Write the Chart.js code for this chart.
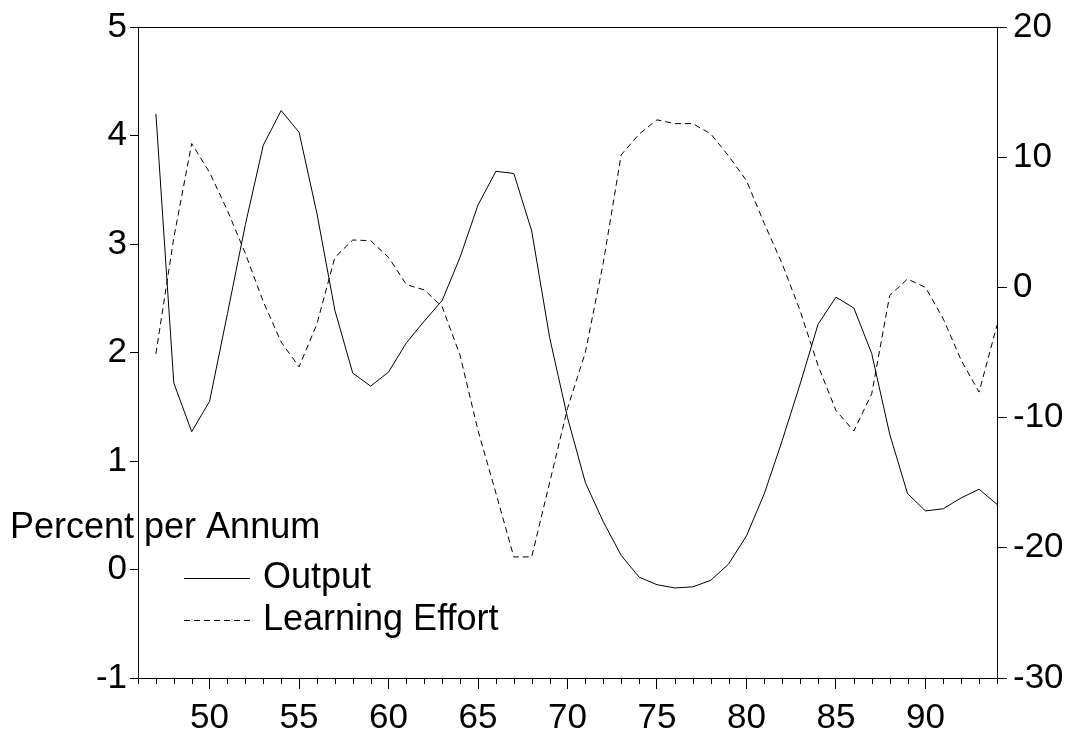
<!DOCTYPE html>
<html lang="en">
<head>
<meta charset="UTF-8">
<title>Output and Learning Effort</title>
<script src="https://cdn.jsdelivr.net/npm/chart.js@4.4.1/dist/chart.umd.min.js"></script>
<style>
  html, body { margin: 0; padding: 0; background: #fff; }
  #wrap { width: 1075px; height: 738px; }
</style>
</head>
<body>
<div id="wrap"><canvas id="chart" width="1075" height="738"></canvas></div>
<script>
// years 1947..1994
const years = [47, 48, 49, 50, 51, 52, 53, 54, 55, 56, 57, 58, 59, 60, 61, 62, 63, 64, 65, 66, 67, 68, 69, 70,
  71, 72, 73, 74, 75, 76, 77, 78, 79, 80, 81, 82, 83, 84, 85, 86, 87, 88, 89, 90, 91, 92, 93, 94];

// output growth, percent per annum (left axis)
const output = [4.20, 1.72, 1.27, 1.55, 2.36, 3.18, 3.91, 4.23, 4.03, 3.28, 2.39, 1.81, 1.69, 1.82, 2.09, 2.29,
  2.48, 2.88, 3.36, 3.67, 3.65, 3.12, 2.14, 1.40, 0.80, 0.44, 0.13, -0.07, -0.14, -0.17, -0.16, -0.10,
  0.05, 0.31, 0.70, 1.19, 1.71, 2.26, 2.51, 2.41, 1.99, 1.25, 0.70, 0.54, 0.56, 0.66, 0.74, 0.60];

// learning effort (right axis)
const learning = [-5.1, 3.8, 11.05, 8.83, 5.9, 2.6, -1.1, -4.2, -6.1, -2.8, 2.3, 3.64, 3.59, 2.31, 0.21, -0.19,
  -1.5, -5.23, -11.0, -15.8, -20.7, -20.7, -15.0, -9.3, -4.98, 1.9, 10.18, 11.77, 12.87, 12.58, 12.58, 11.8,
  10.1, 8.2, 4.9, 1.8, -1.8, -6.0, -9.45, -11.03, -8.17, -0.63, 0.65, 0.0, -2.42, -5.6, -8.04, -2.9];

const xRange = [46, 94];
const leftRange = [-1, 5];
const rightRange = [-30, 20];

const FONT = '"Liberation Sans", Arial, sans-serif';
const tickFont = { family: FONT, size: 35 };

// frame, minor year ticks, axis caption and legend
const decor = {
  id: 'decor',
  afterDraw(chart) {
    const { ctx, chartArea: a, scales } = chart;
    ctx.save();

    ctx.fillStyle = '#000';
    ctx.font = '36px ' + FONT;
    ctx.textBaseline = 'middle';
    ctx.textAlign = 'left';
    ctx.fillText('Percent per Annum', 10, 528);

    ctx.strokeStyle = '#000';
    ctx.lineWidth = 1;
    ctx.beginPath();
    ctx.moveTo(184, 578.5); ctx.lineTo(250, 578.5);
    ctx.stroke();
    ctx.setLineDash([6, 4]);
    ctx.beginPath();
    ctx.moveTo(184, 620.5); ctx.lineTo(250, 620.5);
    ctx.stroke();
    ctx.setLineDash([]);
    ctx.fillText('Output', 263, 578);
    ctx.fillText('Learning Effort', 263, 620);

    // minor ticks on every year
    const x = scales.x;
    ctx.beginPath();
    for (let v = xRange[0]; v <= xRange[1]; v++) {
      if (v % 5 === 0) continue;
      const px = Math.round(x.getPixelForValue(v)) + 0.5;
      ctx.moveTo(px, a.bottom);
      ctx.lineTo(px, a.bottom + 6);
    }
    ctx.stroke();

    ctx.strokeRect(Math.round(a.left) + 0.5, Math.round(a.top) + 0.5,
      Math.round(a.right - a.left), Math.round(a.bottom - a.top));
    ctx.restore();
  }
};

new Chart(document.getElementById('chart'), {
  type: 'line',
  data: {
    datasets: [
      {
        label: 'Output',
        data: years.map((y, i) => ({ x: y, y: output[i] })),
        yAxisID: 'y',
        borderColor: '#000',
        borderWidth: 1,
        pointRadius: 0,
        tension: 0,
      },
      {
        label: 'Learning Effort',
        data: years.map((y, i) => ({ x: y, y: learning[i] })),
        yAxisID: 'y1',
        borderColor: '#000',
        borderWidth: 1,
        borderDash: [6, 4],
        pointRadius: 0,
        tension: 0,
      },
    ],
  },
  options: {
    responsive: false,
    animation: false,
    devicePixelRatio: 1,
    layout: { padding: { top: 26, left: 0, right: 0, bottom: 0 } },
    plugins: { legend: { display: false }, tooltip: { enabled: false } },
    scales: {
      x: {
        type: 'linear',
        min: xRange[0],
        max: xRange[1],
        afterFit: s => { s.height = 60; },
        border: { display: false },
        grid: {
          drawOnChartArea: false,
          tickLength: 11,
          tickColor: c => (c.tick && c.tick.value % 5 === 0 ? '#000' : 'rgba(0,0,0,0)'),
        },
        ticks: {
          stepSize: 1,
          autoSkip: false,
          maxRotation: 0,
          padding: 8,
          color: '#000',
          font: tickFont,
          callback: v => (v % 5 === 0 ? String(v) : ''),
        },
      },
      y: {
        position: 'left',
        min: leftRange[0],
        max: leftRange[1],
        afterFit: s => { s.width = 138; },
        border: { display: false },
        grid: { drawOnChartArea: false, tickLength: 8, color: '#000' },
        ticks: { stepSize: 1, padding: 3, color: '#000', font: tickFont },
      },
      y1: {
        position: 'right',
        min: rightRange[0],
        max: rightRange[1],
        afterFit: s => { s.width = 78; },
        border: { display: false },
        grid: { drawOnChartArea: false, tickLength: 10, color: '#000' },
        ticks: { stepSize: 10, padding: 6, color: '#000', font: tickFont },
      },
    },
  },
  plugins: [decor],
});
</script>
</body>
</html>
